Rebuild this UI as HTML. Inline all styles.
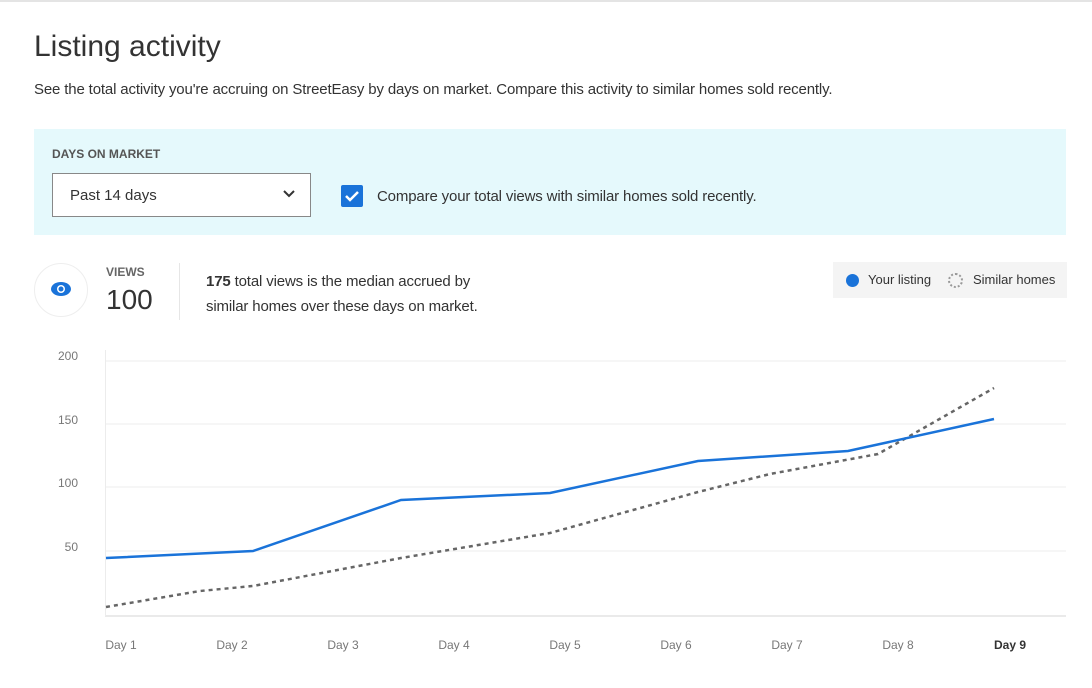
<!DOCTYPE html><html><head><style>
body{margin:0;width:1092px;height:688px;background:#fff;font-family:"Liberation Sans",sans-serif;color:#333;position:relative;overflow:hidden}
.a{position:absolute}
</style></head><body>
<div class="a" style="left:0;top:0;width:1092px;height:2px;background:#e4e4e4"></div>
<div class="a" style="left:34px;top:30px;font-size:30px;font-weight:300;color:#333">Listing activity</div>
<div class="a" style="left:34px;top:81px;font-size:15px;letter-spacing:-0.15px;color:#333">See the total activity you're accruing on StreetEasy by days on market. Compare this activity to similar homes sold recently.</div>
<div class="a" style="left:34px;top:129px;width:1032px;height:106px;background:#e5f9fc"></div>
<div class="a" style="left:52px;top:147px;font-size:12px;font-weight:bold;color:#555">DAYS ON MARKET</div>
<div class="a" style="left:52px;top:173px;width:257px;height:42px;background:#fff;border:1px solid #888"></div>
<div class="a" style="left:70px;top:187px;font-size:15px">Past 14 days</div>
<svg class="a" style="left:282px;top:189px" width="14" height="10"><path d="M2 2l5 5 5-5" stroke="#333" stroke-width="2" fill="none"/></svg>
<div class="a" style="left:341px;top:185px;width:22px;height:22px;background:#1a73d9;border-radius:2px"></div>
<svg class="a" style="left:341px;top:185px" width="22" height="22"><path d="M5 11l4 4 8-8" stroke="#fff" stroke-width="2.5" fill="none"/></svg>
<div class="a" style="left:377px;top:188px;font-size:15px;letter-spacing:-0.15px">Compare your total views with similar homes sold recently.</div>
<div class="a" style="left:34px;top:263px;width:52px;height:52px;border:1px solid #eee;border-radius:50%"></div>
<svg class="a" style="left:50px;top:281px" width="22" height="16"><ellipse cx="11" cy="8" rx="10" ry="7" fill="#1a73d9"/><circle cx="11" cy="8" r="4" fill="#fff"/><circle cx="11" cy="8" r="2.5" fill="#1a73d9"/></svg>
<div class="a" style="left:106px;top:265px;font-size:12px;font-weight:bold;color:#666">VIEWS</div>
<div class="a" style="left:106px;top:284px;font-size:28px;font-weight:300;color:#333">100</div>
<div class="a" style="left:179px;top:263px;width:1px;height:57px;background:#e6e6e6"></div>
<div class="a" style="left:206px;top:269px;font-size:15px;letter-spacing:-0.15px;line-height:25px;color:#333"><b>175</b> total views is the median accrued by<br>similar homes over these days on market.</div>
<div class="a" style="left:833px;top:262px;width:234px;height:36px;background:#f4f4f4"></div>
<div class="a" style="left:846px;top:274px;width:13px;height:13px;border-radius:50%;background:#1a73d9"></div>
<div class="a" style="left:868px;top:272px;font-size:13px">Your listing</div>
<div class="a" style="left:948px;top:273px;width:11px;height:11px;border-radius:50%;border:2px dotted #999"></div>
<div class="a" style="left:973px;top:272px;font-size:13px">Similar homes</div>
<svg class="a" style="left:0;top:340px" width="1092" height="330">
<g stroke="#ececec" stroke-width="1"><line x1="105" y1="21" x2="1066" y2="21"/><line x1="105" y1="84" x2="1066" y2="84"/><line x1="105" y1="147" x2="1066" y2="147"/><line x1="105" y1="211" x2="1066" y2="211"/><line x1="105" y1="276" x2="1066" y2="276" stroke="#d6d6d6"/><line x1="105.5" y1="10" x2="105.5" y2="276"/></g>
<g font-size="12" fill="#777" text-anchor="end" font-family="Liberation Sans"><text x="78" y="20">200</text><text x="78" y="84">150</text><text x="78" y="147">100</text><text x="78" y="211">50</text></g>
<g font-size="12" fill="#777" text-anchor="middle" font-family="Liberation Sans"><text x="121" y="309">Day 1</text><text x="232" y="309">Day 2</text><text x="343" y="309">Day 3</text><text x="454" y="309">Day 4</text><text x="565" y="309">Day 5</text><text x="676" y="309">Day 6</text><text x="787" y="309">Day 7</text><text x="898" y="309">Day 8</text><text x="1010" y="309" font-weight="bold" fill="#333">Day 9</text></g>
<polyline points="106,267 200,251 253,246 401,218 550,193 698,152 770,134 878,114 994,48" fill="none" stroke="#666" stroke-width="2.5" stroke-dasharray="4,4"/>
<polyline points="106,218 253,211 401,160 550,153 698,121 848,111 994,79" fill="none" stroke="#1a73d9" stroke-width="2.5"/>
</svg>
</body></html>
